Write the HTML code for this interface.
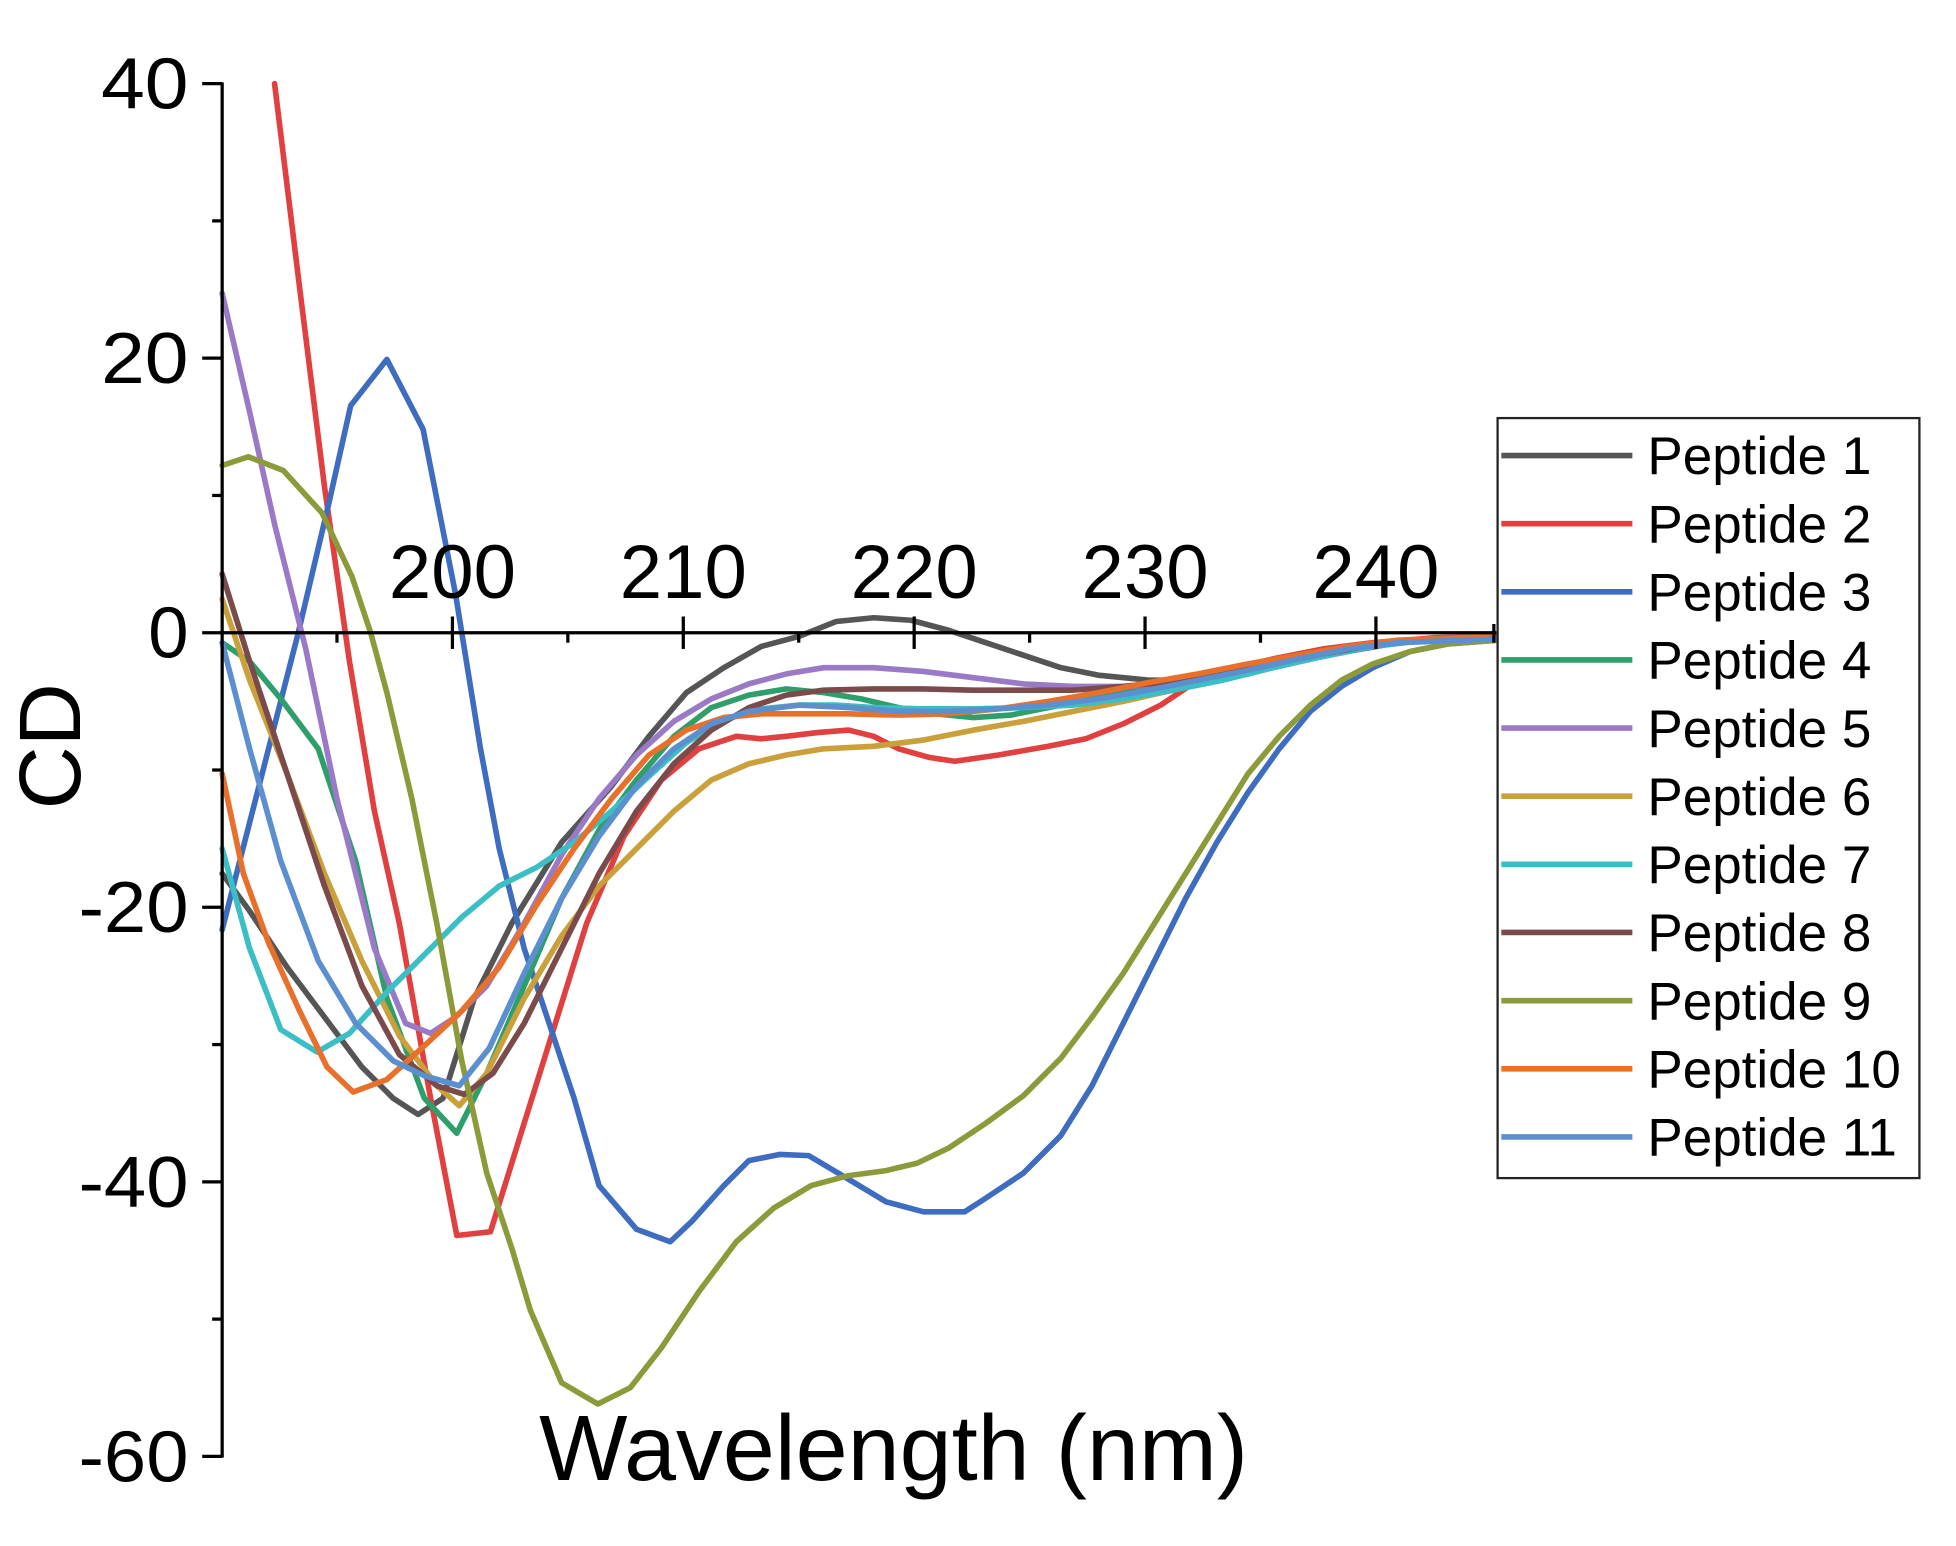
<!DOCTYPE html>
<html><head><meta charset="utf-8"><style>
html,body{margin:0;padding:0;background:#fff}
svg{display:block}
text{font-family:"Liberation Sans",Arial,sans-serif;fill:#000}
</style></head><body>
<svg width="1956" height="1546" viewBox="0 0 1567.3 1238.8" xmlns="http://www.w3.org/2000/svg">
<rect width="1567.3" height="1238.8" fill="#fff"/>
<g fill="none" stroke-width="4.5" stroke-linejoin="round" stroke-linecap="round">
<polyline stroke="#555555" points="178,700 200,730 230,775 260,815 290,855 315,880 335,893 355,880 380,800 410,740 450,675 490,630 520,590 550,555 580,535 610,518 640,510 670,498 700,495 730,497 760,505 790,515 820,525 850,535 880,541 920,545 960,545 1000,540 1040,530 1080,522 1120,515 1160,512 1200,510"/>
<polyline stroke="#e0403f" points="220,67 240,230 260,390 280,530 300,650 320,740 345,880 366,990 393,987 420,900 445,820 470,740 500,670 530,625 560,600 590,590 610,592 630,590 655,587 680,585 700,590 720,600 745,607 765,610 800,605 840,598 870,592 900,580 930,565 960,545 990,535 1020,528 1060,520 1100,515 1150,511 1200,510"/>
<polyline stroke="#3d6cc0" points="178,745 239,507 264,401 281,325 310,288 339,344 365,476 385,600 400,680 420,760 440,820 460,880 480,950 510,985 537,995 555,978 580,950 600,930 625,925 648,926 680,945 710,963 740,971 773,971 790,960 820,940 850,910 875,870 900,820 925,770 950,720 975,675 1000,635 1025,600 1050,570 1075,550 1100,535 1130,522 1160,516 1200,513"/>
<polyline stroke="#2e9e6a" points="178,515 200,530 225,560 255,600 285,690 310,800 340,880 366,908 390,860 420,790 450,720 480,665 510,625 540,590 570,567 600,557 630,552 660,555 690,560 720,567 750,572 780,575 810,573 850,565 890,555 930,547 970,540 1010,532 1050,525 1100,517 1150,512 1200,510"/>
<polyline stroke="#9a79c6" points="178,235 200,330 220,420 245,520 270,640 300,760 325,820 345,828 365,815 390,790 420,740 450,685 480,640 510,605 540,578 570,560 600,548 630,540 660,535 700,535 740,538 780,543 820,548 860,550 900,550 940,548 980,543 1020,535 1060,526 1100,518 1150,512 1200,510"/>
<polyline stroke="#c9a03a" points="178,480 200,545 230,620 260,700 290,770 320,830 350,870 368,886 390,860 420,800 450,750 480,710 510,680 540,650 570,625 600,612 630,605 660,600 700,598 740,593 780,585 820,578 860,570 900,562 940,553 980,543 1020,533 1060,524 1100,516 1150,512 1200,510"/>
<polyline stroke="#3bbfc4" points="178,680 200,760 225,825 254,843 280,828 310,795 340,765 370,735 400,710 430,695 460,675 490,650 520,622 550,595 580,577 610,568 640,565 670,565 700,567 740,568 780,568 820,567 860,565 900,560 940,553 980,545 1020,535 1060,526 1100,518 1150,512 1200,510"/>
<polyline stroke="#7b4a4a" points="178,460 200,530 230,620 260,710 290,790 320,845 350,870 372,877 395,860 420,820 450,760 480,700 510,650 540,612 570,585 600,567 630,557 660,553 700,552 740,552 780,553 820,553 860,553 900,550 940,546 980,540 1020,532 1060,524 1100,517 1150,512 1200,510"/>
<polyline stroke="#8d9a3a" points="178,373 199,366 227,377 258,411 282,462 297,507 310,555 330,640 350,740 370,850 390,940 410,1000 425,1050 450,1108 479,1125 505,1112 530,1080 560,1035 590,995 620,968 650,950 680,942 710,938 735,932 760,920 790,900 820,878 850,848 875,815 900,780 925,740 950,700 975,660 1000,620 1025,590 1050,565 1075,545 1100,532 1130,522 1160,516 1200,513"/>
<polyline stroke="#e8702a" points="178,620 195,700 215,755 240,810 262,855 283,875 310,865 340,838 370,810 400,775 430,725 460,680 490,640 520,605 550,585 580,575 610,572 640,572 680,572 720,573 760,572 800,568 840,562 880,555 920,547 960,540 1000,532 1040,525 1080,518 1120,513 1200,510"/>
<polyline stroke="#5b8fd0" points="178,515 200,600 225,690 255,770 285,820 315,850 340,862 368,870 392,840 420,780 450,720 480,670 510,630 540,600 570,580 600,570 640,565 680,567 720,570 760,570 800,568 840,565 880,560 920,553 960,545 1000,537 1040,528 1080,520 1120,515 1200,512"/>
</g>
<g stroke="#000" stroke-width="2.6" fill="none">
<line x1="178" y1="66" x2="178" y2="1168"/>
<line x1="162" y1="67" x2="178" y2="67"/>
<line x1="162" y1="287" x2="178" y2="287"/>
<line x1="162" y1="507" x2="178" y2="507"/>
<line x1="162" y1="727" x2="178" y2="727"/>
<line x1="162" y1="947" x2="178" y2="947"/>
<line x1="162" y1="1167" x2="178" y2="1167"/>
<line x1="170" y1="177" x2="178" y2="177"/>
<line x1="170" y1="397" x2="178" y2="397"/>
<line x1="170" y1="617" x2="178" y2="617"/>
<line x1="170" y1="837" x2="178" y2="837"/>
<line x1="170" y1="1057" x2="178" y2="1057"/>
<line x1="178" y1="507" x2="1199" y2="507"/>
<line x1="362.5" y1="494" x2="362.5" y2="520"/>
<line x1="547.5" y1="494" x2="547.5" y2="520"/>
<line x1="732.5" y1="494" x2="732.5" y2="520"/>
<line x1="917.5" y1="494" x2="917.5" y2="520"/>
<line x1="1102.5" y1="494" x2="1102.5" y2="520"/>
<line x1="270" y1="507" x2="270" y2="515"/>
<line x1="455" y1="507" x2="455" y2="515"/>
<line x1="640" y1="507" x2="640" y2="515"/>
<line x1="825" y1="507" x2="825" y2="515"/>
<line x1="1010" y1="507" x2="1010" y2="515"/>
<line x1="1197" y1="500" x2="1197" y2="515"/>
</g>
<g font-size="58" text-anchor="end">
<text x="151" y="87" textLength="70" lengthAdjust="spacingAndGlyphs">40</text>
<text x="151" y="307" textLength="70" lengthAdjust="spacingAndGlyphs">20</text>
<text x="151" y="527">0</text>
<text x="151" y="747" textLength="88" lengthAdjust="spacingAndGlyphs">-20</text>
<text x="151" y="967" textLength="88" lengthAdjust="spacingAndGlyphs">-40</text>
<text x="151" y="1187" textLength="88" lengthAdjust="spacingAndGlyphs">-60</text>
</g>
<g font-size="61" text-anchor="middle">
<text x="362.5" y="479">200</text>
<text x="547.5" y="479">210</text>
<text x="732.5" y="479">220</text>
<text x="917.5" y="479">230</text>
<text x="1102.5" y="479">240</text>
</g>
<text x="432" y="1186" font-size="74" textLength="568" lengthAdjust="spacingAndGlyphs">Wavelength (nm)</text>
<text transform="translate(64,598) rotate(-90)" font-size="70" text-anchor="middle">CD</text>
<rect x="1200" y="335" width="338" height="609" fill="#fff" stroke="#222" stroke-width="1.8"/>
<g stroke-width="4.5">
<line x1="1203" y1="365" x2="1308" y2="365" stroke="#555555"/>
<line x1="1203" y1="419.6" x2="1308" y2="419.6" stroke="#e0403f"/>
<line x1="1203" y1="474.2" x2="1308" y2="474.2" stroke="#3d6cc0"/>
<line x1="1203" y1="528.8" x2="1308" y2="528.8" stroke="#2e9e6a"/>
<line x1="1203" y1="583.4" x2="1308" y2="583.4" stroke="#9a79c6"/>
<line x1="1203" y1="638" x2="1308" y2="638" stroke="#c9a03a"/>
<line x1="1203" y1="692.6" x2="1308" y2="692.6" stroke="#3bbfc4"/>
<line x1="1203" y1="747.2" x2="1308" y2="747.2" stroke="#7b4a4a"/>
<line x1="1203" y1="801.8" x2="1308" y2="801.8" stroke="#8d9a3a"/>
<line x1="1203" y1="856.4" x2="1308" y2="856.4" stroke="#e8702a"/>
<line x1="1203" y1="911" x2="1308" y2="911" stroke="#5b8fd0"/>
</g>
<g font-size="42.5">
<text x="1320" y="380">Peptide 1</text>
<text x="1320" y="434.6">Peptide 2</text>
<text x="1320" y="489.2">Peptide 3</text>
<text x="1320" y="543.8">Peptide 4</text>
<text x="1320" y="598.4">Peptide 5</text>
<text x="1320" y="653">Peptide 6</text>
<text x="1320" y="707.6">Peptide 7</text>
<text x="1320" y="762.2">Peptide 8</text>
<text x="1320" y="816.8">Peptide 9</text>
<text x="1320" y="871.4">Peptide 10</text>
<text x="1320" y="926">Peptide 11</text>
</g>
</svg>
</body></html>
